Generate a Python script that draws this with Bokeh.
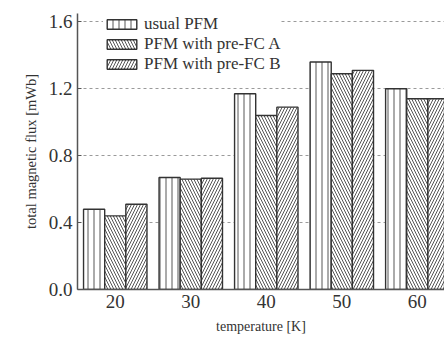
from bokeh.plotting import figure
from bokeh.models import FixedTicker, PrintfTickFormatter, Range1d, Legend, LegendItem, ColumnDataSource
from bokeh.transform import dodge
from bokeh.embed import file_html
from bokeh.resources import INLINE

temps = [20, 30, 40, 50, 60]
usual_pfm = [0.48, 0.67, 1.17, 1.36, 1.20]
pre_fc_a = [0.44, 0.66, 1.04, 1.29, 1.14]
pre_fc_b = [0.51, 0.665, 1.09, 1.31, 1.14]
series_names = ["usual PFM", "PFM with pre-FC A", "PFM with pre-FC B"]
y_ticks = [0.0, 0.4, 0.8, 1.2, 1.6]

FONT = "Liberation Serif"
INK = "#333333"

src = ColumnDataSource(dict(t=temps, a=usual_pfm, b=pre_fc_a, c=pre_fc_b))

p = figure(width=444, height=344, output_backend="svg", toolbar_location=None,
           x_range=Range1d(15, 63.6), y_range=Range1d(0, 1.65),
           min_border_left=77, min_border_right=0, min_border_top=13, min_border_bottom=55)
p.outline_line_color = None
p.background_fill_color = "white"

bw = 2.8
common = dict(width=bw, bottom=0, source=src, fill_color="white", line_color=INK,
              line_width=1.4, hatch_color="#555555", hatch_weight=1, hatch_scale=6)
r1 = p.vbar(x=dodge("t", -bw, range=p.x_range), top="a", hatch_pattern="|", **common)
r2 = p.vbar(x=dodge("t", 0, range=p.x_range), top="b", hatch_pattern="\\", **common)
r3 = p.vbar(x=dodge("t", bw, range=p.x_range), top="c", hatch_pattern="/", **common)

p.xaxis.ticker = FixedTicker(ticks=temps)
p.yaxis.ticker = FixedTicker(ticks=y_ticks)
p.yaxis.formatter = PrintfTickFormatter(format="%.1f")

for ax in (p.xaxis[0], p.yaxis[0]):
    ax.axis_line_color = "#555555"
    ax.axis_line_width = 1.5
    ax.major_tick_line_color = "#555555"
    ax.minor_tick_line_color = None
    ax.major_tick_out = 0
    ax.major_label_text_font = FONT
    ax.major_label_text_font_size = "19px"
    ax.major_label_text_color = INK
    ax.axis_label_text_font = FONT
    ax.axis_label_text_font_style = "normal"
    ax.axis_label_text_color = INK

p.xaxis.axis_label_text_font_size = "14px"
p.yaxis.axis_label_text_font_size = "14.5px"
p.xaxis.major_tick_in = 0
p.yaxis.major_tick_in = 4
p.xaxis.major_label_standoff = 5
p.xaxis.axis_label_standoff = 8
p.yaxis.major_label_standoff = 5
p.yaxis.axis_label_standoff = 7
p.xaxis.axis_label = "temperature [K]"
p.yaxis.axis_label = "total magnetic flux [mWb]"

p.xgrid.grid_line_color = None
p.ygrid.grid_line_color = "#9a9a9a"
p.ygrid.grid_line_dash = "3 3"
p.ygrid.grid_line_width = 1

legend = Legend(items=[LegendItem(label=series_names[0], renderers=[r1]),
                       LegendItem(label=series_names[1], renderers=[r2]),
                       LegendItem(label=series_names[2], renderers=[r3])],
                location=(26, 215))
legend.border_line_color = None
legend.background_fill_color = "white"
legend.background_fill_alpha = 1
legend.padding = 4
legend.margin = 0
legend.spacing = -2
legend.glyph_width = 37
legend.glyph_height = 12
legend.label_height = 12
legend.label_standoff = 4
legend.label_text_font = FONT
legend.label_text_font_size = "17px"
legend.label_text_color = INK
p.add_layout(legend, "center")

open("out.html", "w").write(file_html(p, INLINE))
